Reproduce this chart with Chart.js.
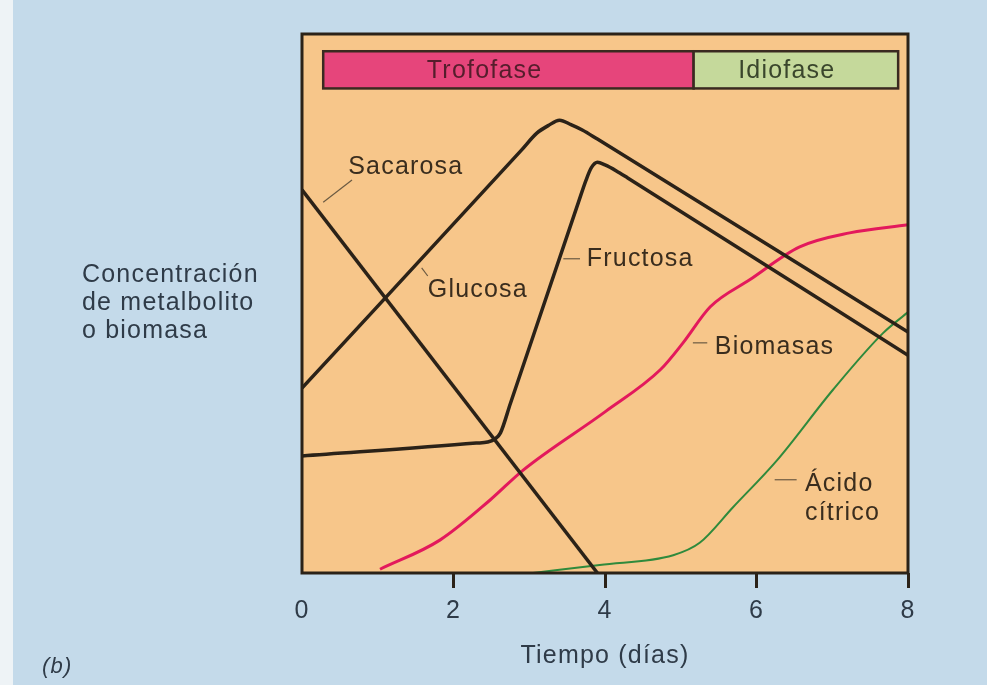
<!DOCTYPE html>
<html>
<head>
<meta charset="utf-8">
<script src="https://cdn.jsdelivr.net/npm/chart.js@4.4.0/dist/chart.umd.min.js"></script>
<style>
  body { margin: 0; background: linear-gradient(to right, #eef3f6 0, #eef3f6 13px, #c4daea 13px); }
  canvas { display: block; }
</style>
</head>
<body>
<canvas id="ChartCanvas" width="987" height="685"></canvas>
<script>
// Tiempo (días) on x, concentration (arbitrary units 0-100) on y
const sacarosaX = [0, 3.9];
const sacarosaY = [71.1, 0];

const glucosaX = [0, 2.9, 3.1, 3.25, 3.4, 3.55, 3.7, 3.9, 8];
const glucosaY = [34.3, 78.5, 81.6, 83.0, 84.0, 83.2, 82.2, 80.5, 44.7];

const fructosaX = [0, 2.3, 2.45, 2.55, 2.62, 2.75, 3.65, 3.75, 3.82, 3.9, 4.0, 4.15, 4.3, 8];
const fructosaY = [21.7, 24.1, 24.3, 24.9, 26.0, 31.4, 68.8, 72.9, 75.2, 76.2, 75.7, 74.6, 73.3, 40.4];

const biomasaX = [1.03, 1.82, 2.48, 2.92, 4.0, 4.73, 5.03, 5.39, 5.91, 6.57, 7.23, 8.0];
const biomasaY = [0.7, 6.1, 13.5, 19.1, 29.9, 37.7, 42.7, 49.4, 54.4, 60.5, 63.1, 64.6];

const citricoX = [3.05, 3.93, 4.9, 5.25, 5.69, 6.27, 7.01, 7.67, 8.0];
const citricoY = [0, 1.5, 3.3, 5.6, 12.2, 20.9, 34.0, 44.5, 48.4];

const xTicks = [0, 2, 4, 6, 8];

// phase bar across the top: [label, start day, end day]
const phases = [
    ['Trofofase', 0.28, 5.17],
    ['Idiofase', 5.17, 7.87]
];

const yLabelLines = ['Concentración', 'de metalbolito', 'o biomasa'];

Initialize();

function Initialize()
{
    const pts = (xs, ys) => xs.map((x, i) => ({x: x, y: ys[i]}));

    const frameColor = '#2b2218';
    const inkInside = '#3a2d1e';
    const inkOutside = '#2f3b48';
    const fontFamily = '"Liberation Sans", Arial, sans-serif';

    // Labels inside the plot, placed in data units: text, x, y, leader line
    const curveLabels = [
        {text: ['Sacarosa'], x: 0.61, y: 75.3, lead: [0.66, 72.9, 0.28, 68.8]},
        {text: ['Glucosa'], x: 1.66, y: 52.5, lead: [1.58, 56.6, 1.66, 55.1]},
        {text: ['Fructosa'], x: 3.76, y: 58.3, lead: [3.45, 58.3, 3.67, 58.3]},
        {text: ['Biomasas'], x: 5.45, y: 41.9, lead: [5.16, 42.7, 5.35, 42.7]},
        {text: ['Ácido', 'cítrico'], x: 6.64, y: 16.5, lead: [6.24, 17.3, 6.53, 17.3]}
    ];

    const decorations = {
        id: 'decorations',
        beforeDraw(chart) {
            const ctx = chart.ctx;
            const a = chart.chartArea;
            ctx.letterSpacing = '1.2px';
            ctx.save();
            ctx.fillStyle = '#f7c68a';
            ctx.fillRect(a.left, a.top, a.right - a.left, a.bottom - a.top);
            ctx.restore();
        },
        beforeDatasetsDraw(chart) {
            const ctx = chart.ctx;
            const xs = chart.scales.x;
            const ys = chart.scales.y;
            const fills = ['#e6457b', '#c5d99b'];
            const inks = ['#561d2c', '#3a462c'];
            const textCenters = [2.41, 6.40];
            const top = ys.getPixelForValue(96.8);
            const bottom = ys.getPixelForValue(89.9);
            ctx.save();
            ctx.font = '25px ' + fontFamily;
            ctx.textAlign = 'center';
            ctx.textBaseline = 'middle';
            phases.forEach((p, i) => {
                const l = xs.getPixelForValue(p[1]);
                const r = xs.getPixelForValue(p[2]);
                ctx.fillStyle = fills[i];
                ctx.fillRect(l, top, r - l, bottom - top);
                ctx.lineWidth = 2.5;
                ctx.strokeStyle = '#3a2a20';
                ctx.strokeRect(l, top, r - l, bottom - top);
                ctx.fillStyle = inks[i];
                ctx.fillText(p[0], xs.getPixelForValue(textCenters[i]), (top + bottom) / 2 + 1);
            });

            // curve labels with their small leader lines
            ctx.textAlign = 'left';
            curveLabels.forEach(c => {
                ctx.strokeStyle = '#6b5a42';
                ctx.lineWidth = 1.2;
                ctx.beginPath();
                ctx.moveTo(xs.getPixelForValue(c.lead[0]), ys.getPixelForValue(c.lead[1]));
                ctx.lineTo(xs.getPixelForValue(c.lead[2]), ys.getPixelForValue(c.lead[3]));
                ctx.stroke();
                ctx.fillStyle = inkInside;
                c.text.forEach((t, k) => {
                    ctx.fillText(t, xs.getPixelForValue(c.x), ys.getPixelForValue(c.y) + k * 29);
                });
            });
            ctx.restore();
        },
        afterDatasetsDraw(chart) {
            const ctx = chart.ctx;
            const a = chart.chartArea;
            ctx.save();
            ctx.strokeStyle = frameColor;
            ctx.lineWidth = 3;
            ctx.strokeRect(a.left, a.top, a.right - a.left, a.bottom - a.top);

            // y axis description, written horizontally left of the plot
            ctx.font = '25px ' + fontFamily;
            ctx.fillStyle = inkOutside;
            ctx.textAlign = 'left';
            ctx.textBaseline = 'alphabetic';
            yLabelLines.forEach((t, i) => ctx.fillText(t, 82, 282 + i * 28));

            ctx.font = 'italic 22px ' + fontFamily;
            ctx.fillText('(b)', 42, 673);
            ctx.restore();
        }
    };

    const black = '#2b2218';
    const canvas = document.getElementById('ChartCanvas');
    const chart = new Chart(canvas.getContext('2d'), {
        type: 'line',
        data: {
            datasets: [
                { label: 'Sacarosa', data: pts(sacarosaX, sacarosaY), borderColor: black, borderWidth: 3.5, tension: 0 },
                { label: 'Glucosa', data: pts(glucosaX, glucosaY), borderColor: black, borderWidth: 3.5, cubicInterpolationMode: 'monotone' },
                { label: 'Fructosa', data: pts(fructosaX, fructosaY), borderColor: black, borderWidth: 3.5, cubicInterpolationMode: 'monotone' },
                { label: 'Biomasas', data: pts(biomasaX, biomasaY), borderColor: '#e3195c', borderWidth: 3, cubicInterpolationMode: 'monotone' },
                { label: 'Ácido cítrico', data: pts(citricoX, citricoY), borderColor: '#2f8a3c', borderWidth: 2, cubicInterpolationMode: 'monotone' }
            ]
        },
        options: {
            responsive: false,
            animation: false,
            events: [],
            elements: {
                point: { radius: 0 },
                line: { borderJoinStyle: 'round', borderCapStyle: 'butt' }
            },
            layout: {
                padding: { left: 302, top: 34, right: 79, bottom: 14 }
            },
            plugins: {
                legend: { display: false },
                tooltip: { enabled: false }
            },
            scales: {
                x: {
                    type: 'linear',
                    min: 0,
                    max: 8,
                    afterBuildTicks: axis => { axis.ticks = xTicks.map(v => ({value: v})); },
                    ticks: {
                        color: inkOutside,
                        font: { family: fontFamily, size: 25 },
                        padding: 8,
                        maxRotation: 0
                    },
                    grid: {
                        drawOnChartArea: false,
                        drawTicks: true,
                        tickLength: 15,
                        tickWidth: 3,
                        tickColor: c => (c.tick && c.tick.value === 0) ? 'rgba(0,0,0,0)' : frameColor
                    },
                    border: { display: false },
                    title: {
                        display: true,
                        text: 'Tiempo (días)',
                        color: inkOutside,
                        font: { family: fontFamily, size: 25 },
                        padding: { top: 7, bottom: 0 }
                    }
                },
                y: {
                    min: 0,
                    max: 100,
                    ticks: { display: false },
                    grid: { drawOnChartArea: false, drawTicks: false },
                    border: { display: false }
                }
            }
        },
        plugins: [decorations]
    });
}
</script>
</body>
</html>
